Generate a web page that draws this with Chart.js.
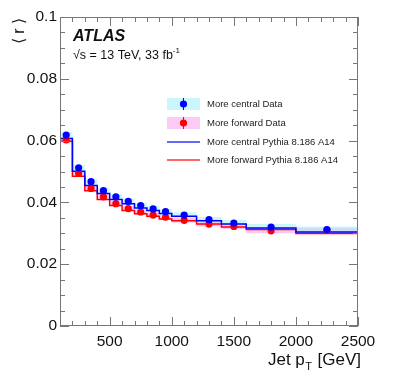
<!DOCTYPE html>
<html>
<head>
<meta charset="utf-8">
<script src="https://cdn.jsdelivr.net/npm/chart.js@4"></script>
<style>
  html, body { margin: 0; padding: 0; background: #fff; }
  #wrap { width: 399px; height: 379px; }
</style>
</head>
<body>
<div id="wrap"><canvas id="chart" width="399" height="379"></canvas></div>
<script>
// Jet pT binning [GeV]
const binEdges = [100, 200, 300, 400, 500, 600, 700, 800, 900, 1000, 1200, 1400, 1600, 2000, 2500];
const binCentres = [150, 250, 350, 450, 550, 650, 750, 850, 950, 1100, 1300, 1500, 1800, 2250];

// <r> values
const centralData = [0.0618, 0.0512, 0.0467, 0.0438, 0.0418, 0.0403, 0.0390, 0.0379, 0.0370, 0.0359, 0.0344, 0.0333, 0.0320, 0.0312];
const forwardData = [0.0602, 0.0494, 0.0445, 0.0418, 0.0396, 0.0380, 0.0369, 0.0359, 0.0352, 0.0342, 0.0330, 0.0322, 0.0308, 0.0310];
const centralSyst = [0.0010, 0.0009, 0.0009, 0.0009, 0.0009, 0.0009, 0.0009, 0.0009, 0.0009, 0.0009, 0.0009, 0.0010, 0.0010, 0.0010];
const forwardSyst = [0.0008, 0.0008, 0.0008, 0.0008, 0.0008, 0.0008, 0.0008, 0.0008, 0.0008, 0.0008, 0.0008, 0.0008, 0.0008, 0.0008];
const centralPythia = [0.0607, 0.0501, 0.0455, 0.0429, 0.0409, 0.0396, 0.0382, 0.0374, 0.0364, 0.0355, 0.0341, 0.0330, 0.0317, 0.0304];
const forwardPythia = [0.0598, 0.0485, 0.0438, 0.0409, 0.0390, 0.0374, 0.0363, 0.0355, 0.0346, 0.0341, 0.0330, 0.0320, 0.0312, 0.0299];

const xTicks = [500, 1000, 1500, 2000, 2500];
const yTicks = [0, 0.02, 0.04, 0.06, 0.08, 0.1];
const xMinorStep = 100;
const yMinorStep = 0.005;

const FONT = '"Liberation Sans", Arial, Helvetica, sans-serif';
const CYAN = 'rgba(160, 240, 250, 0.55)';
const PINK = 'rgba(250, 160, 235, 0.55)';

// step histogram: one point per lower edge, last edge repeats last value
function histPoints(vals) {
    return binEdges.map((e, i) => ({ x: e, y: vals[Math.min(i, vals.length - 1)] }));
}
function bandPoints(vals, errs, sign) {
    return histPoints(vals.map((v, i) => v + sign * errs[i]));
}
function dataPoints(vals) {
    return binCentres.map((c, i) => ({ x: c, y: vals[i] }));
}

// 'before' in chart.js = go horizontal at the previous value, then jump
const stepLine = (data, color) => ({
    data, borderColor: color, borderWidth: 1.5, pointRadius: 0,
    stepped: 'before', fill: false
});
const band = (data, color, fill) => ({
    data, borderWidth: 0, borderColor: 'rgba(0,0,0,0)', backgroundColor: color,
    pointRadius: 0, stepped: 'before', fill
});
const markers = (data, color) => ({
    data, showLine: false, pointRadius: 3.6, pointStyle: 'circle',
    pointBackgroundColor: color, pointBorderColor: color, pointBorderWidth: 0
});

// frame, inward ticks, titles, ATLAS label, legend
const decorations = {
    id: 'decorations',
    afterDraw(chart) {
        const ctx = chart.ctx;
        const a = chart.chartArea;
        const xs = chart.scales.x, ys = chart.scales.y;
        ctx.save();
        ctx.strokeStyle = '#777';
        ctx.lineWidth = 1;
        ctx.strokeRect(a.left + 0.5, a.top + 0.5, a.right - a.left - 1, a.bottom - a.top - 1);

        ctx.beginPath();
        for (let v = 100; v <= 2500; v += xMinorStep) {
            const px = Math.round(xs.getPixelForValue(v)) + 0.5;
            const len = xTicks.includes(v) ? 9 : 5;
            ctx.moveTo(px, a.bottom); ctx.lineTo(px, a.bottom - len);
            ctx.moveTo(px, a.top); ctx.lineTo(px, a.top + len);
        }
        for (let k = 0; k <= 20; k++) {
            const v = k * yMinorStep;
            const py = Math.round(ys.getPixelForValue(v)) + 0.5;
            const len = k % 4 === 0 ? 9 : 5;
            ctx.moveTo(a.left, py); ctx.lineTo(a.left + len, py);
            ctx.moveTo(a.right, py); ctx.lineTo(a.right - len, py);
        }
        ctx.stroke();

        ctx.fillStyle = '#111';
        // y title, rotated
        ctx.save();
        ctx.translate(24, a.top + 1);
        ctx.rotate(-Math.PI / 2);
        ctx.textAlign = 'right';
        ctx.textBaseline = 'alphabetic';
        ctx.font = '16px ' + FONT;
        ctx.fillText('\u27E8 r \u27E9', 0, 0);
        ctx.restore();

        // x title
        ctx.textBaseline = 'alphabetic';
        const t1 = 'Jet p', t3 = '[GeV]';
        ctx.font = '11px ' + FONT;
        const wT = ctx.measureText('T').width;
        ctx.font = '17px ' + FONT;
        const w3 = ctx.measureText(t3).width;
        const w1 = ctx.measureText(t1).width;
        const gap = 6;
        let x0 = a.right + 3 - w3 - gap - wT - w1;
        ctx.fillText(t1, x0, 365);
        ctx.font = '11px ' + FONT;
        ctx.fillText('T', x0 + w1 + 0.5, 370);
        ctx.font = '17px ' + FONT;
        ctx.fillText(t3, x0 + w1 + wT + gap, 365);

        // ATLAS label
        ctx.font = 'italic bold 16px ' + FONT;
        ctx.fillText('ATLAS', 73, 41);
        ctx.font = '12.5px ' + FONT;
        const sq = '\u221As = 13 TeV, 33 fb';
        ctx.fillText(sq, 73, 59);
        const wsq = ctx.measureText(sq).width;
        ctx.font = '8px ' + FONT;
        ctx.fillText('-1', 73 + wsq, 53);

        // legend
        const lx = 167, lw = 33, tx = 207;
        const rows = [104, 123, 142, 160];
        ctx.fillStyle = CYAN;
        ctx.fillRect(lx, 98, lw, 12);
        ctx.fillStyle = PINK;
        ctx.fillRect(lx, 117, lw, 12);
        [['#0000ff', rows[0]], ['#ff0000', rows[1]]].forEach(([c, y]) => {
            ctx.strokeStyle = c; ctx.fillStyle = c; ctx.lineWidth = 1;
            ctx.beginPath(); ctx.moveTo(lx + lw / 2, y - 6); ctx.lineTo(lx + lw / 2, y + 6); ctx.stroke();
            ctx.beginPath(); ctx.arc(lx + lw / 2, y, 3.6, 0, Math.PI * 2); ctx.fill();
        });
        [['#3333ff', rows[2]], ['#ff3333', rows[3]]].forEach(([c, y]) => {
            ctx.strokeStyle = c; ctx.lineWidth = 1.5;
            ctx.beginPath(); ctx.moveTo(lx, y); ctx.lineTo(lx + lw, y); ctx.stroke();
        });
        ctx.fillStyle = '#222';
        ctx.font = '9.5px ' + FONT;
        ctx.textBaseline = 'middle';
        ['More central Data', 'More forward Data', 'More central Pythia 8.186 A14', 'More forward Pythia 8.186 A14']
            .forEach((t, i) => ctx.fillText(t, tx, rows[i] + 0.5));
        ctx.restore();
    }
};

new Chart(document.getElementById('chart'), {
    type: 'line',
    data: {
        datasets: [
            markers(dataPoints(centralData), '#0000ff'),
            markers(dataPoints(forwardData), '#ff0000'),
            stepLine(histPoints(centralPythia), '#0000ff'),
            stepLine(histPoints(forwardPythia), '#ff0000'),
            band(bandPoints(centralData, centralSyst, 1), CYAN, '+1'),
            band(bandPoints(centralData, centralSyst, -1), CYAN, false),
            band(bandPoints(forwardData, forwardSyst, 1), PINK, '+1'),
            band(bandPoints(forwardData, forwardSyst, -1), PINK, false)
        ]
    },
    options: {
        responsive: false,
        animation: false,
        devicePixelRatio: 1,
        layout: { padding: { top: 17, right: 41, left: 0, bottom: 0 } },
        plugins: { legend: { display: false }, tooltip: { enabled: false } },
        scales: {
            x: {
                type: 'linear', min: 100, max: 2500,
                grid: { display: false, drawTicks: false },
                border: { display: false },
                afterBuildTicks: s => { s.ticks = xTicks.map(v => ({ value: v })); },
                afterFit: s => { s.height = 53; },
                ticks: {
                    font: { family: FONT, size: 15.5 }, color: '#111', padding: 6, maxRotation: 0, autoSkip: false,
                    callback: v => String(v)
                }
            },
            y: {
                type: 'linear', min: 0, max: 0.1,
                grid: { display: false, drawTicks: false },
                border: { display: false },
                afterBuildTicks: s => { s.ticks = yTicks.map(v => ({ value: v })); },
                afterFit: s => { s.width = 60; },
                ticks: {
                    font: { family: FONT, size: 15.5 }, color: '#111', padding: 3,
                    callback: v => (v === 0 ? '0' : v === 0.1 ? '0.1' : v.toFixed(2))
                }
            }
        }
    },
    plugins: [decorations]
});
</script>
</body>
</html>
